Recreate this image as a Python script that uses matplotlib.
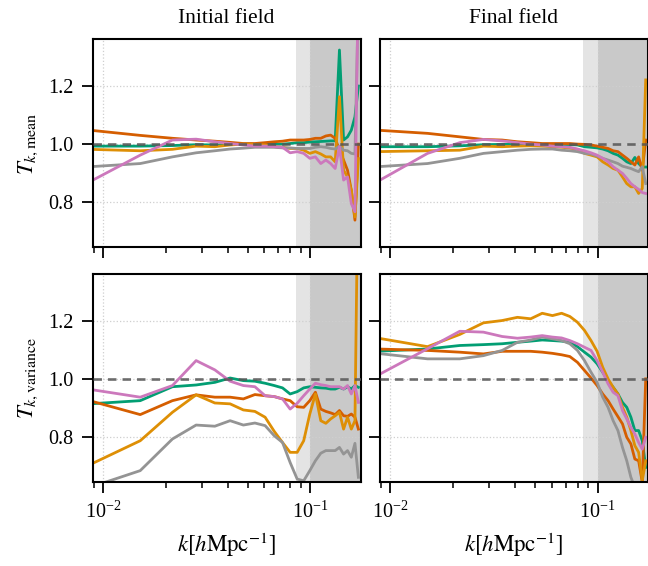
import matplotlib
matplotlib.use("Agg")
import matplotlib.pyplot as plt

# k bins [h/Mpc]
k = [0.0086, 0.0151, 0.0216, 0.0281, 0.0346, 0.0410, 0.0475, 0.0540, 0.0605,
     0.0670, 0.0734, 0.0799, 0.0864, 0.0929, 0.0994, 0.1058, 0.1123, 0.1188,
     0.1253, 0.1318, 0.1382, 0.1447, 0.1512, 0.1577, 0.1642, 0.1706]

# transfer function, mean, initial field
mean_init_green = [0.993, 0.993, 0.995, 0.998, 0.997, 0.999, 1.000, 0.999, 0.999,
                   0.999, 1.000, 1.002, 1.005, 1.005, 1.007, 1.008, 1.009, 1.010,
                   1.011, 1.011, 1.324, 1.014, 1.025, 1.048, 1.094, 1.200]
mean_init_verm = [1.048, 1.030, 1.020, 1.014, 1.010, 1.006, 1.002, 1.002, 1.005,
                  1.008, 1.010, 1.014, 1.014, 1.014, 1.016, 1.020, 1.020, 1.028,
                  1.031, 1.020, 0.979, 0.945, 0.910, 0.841, 0.738, 1.000]
mean_init_orange = [0.982, 0.977, 0.982, 0.993, 0.991, 0.997, 1.000, 0.999, 0.997,
                    0.991, 0.989, 0.985, 0.985, 0.979, 0.968, 0.974, 0.966, 0.956,
                    0.956, 0.939, 1.163, 0.910, 0.887, 0.841, 0.749, 0.950]
mean_init_pink = [0.870, 0.962, 1.014, 1.017, 1.008, 1.002, 0.997, 0.993, 0.993,
                  0.991, 0.989, 0.970, 0.974, 0.968, 0.951, 0.956, 0.933, 0.945,
                  0.933, 0.916, 0.991, 0.876, 0.887, 0.795, 0.767, 1.600]
mean_init_grey = [0.922, 0.933, 0.956, 0.970, 0.977, 0.983, 0.986, 0.989, 0.989,
                  0.989, 0.987, 0.987, 0.985, 0.985, 0.985, 0.989, 0.991, 0.989,
                  0.985, 0.983, 0.993, 0.979, 0.977, 0.968, 0.966, 1.500]

# transfer function, mean, final field
mean_final_green = [0.991, 0.991, 0.994, 0.998, 0.999, 0.999, 0.999, 0.999, 0.999,
                    0.998, 0.998, 0.997, 0.991, 0.989, 0.987, 0.983, 0.977, 0.968,
                    0.962, 0.951, 0.939, 0.933, 0.954, 0.933, 0.921, 0.921]
mean_final_verm = [1.048, 1.037, 1.025, 1.016, 1.014, 1.008, 1.005, 1.002, 1.002,
                   1.002, 1.002, 1.000, 0.999, 0.997, 0.993, 0.989, 0.985, 0.977,
                   0.974, 0.962, 0.951, 0.939, 0.928, 0.956, 0.910, 1.014]
mean_final_orange = [0.974, 0.977, 0.979, 0.993, 0.991, 0.993, 0.994, 0.993, 0.991,
                     0.989, 0.986, 0.982, 0.968, 0.962, 0.956, 0.939, 0.928, 0.916,
                     0.910, 0.887, 0.864, 0.853, 0.853, 0.830, 0.847, 1.221]
mean_final_pink = [0.870, 0.968, 1.005, 1.016, 1.011, 1.005, 1.000, 0.997, 0.993,
                   0.991, 0.989, 0.983, 0.977, 0.970, 0.962, 0.951, 0.939, 0.922,
                   0.910, 0.899, 0.882, 0.864, 0.853, 0.844, 0.833, 0.830]
mean_final_grey = [0.922, 0.933, 0.951, 0.968, 0.974, 0.979, 0.982, 0.983, 0.983,
                   0.979, 0.977, 0.974, 0.968, 0.966, 0.959, 0.951, 0.945, 0.939,
                   0.933, 0.924, 0.920, 0.916, 0.910, 0.905, 0.922, 0.864]

# transfer function, variance, initial field
var_init_green = [0.913, 0.924, 0.972, 0.978, 0.987, 1.002, 0.993, 0.991, 0.984,
                  0.976, 0.968, 0.947, 0.955, 0.968, 0.972, 0.970, 0.968, 0.967,
                  0.964, 0.964, 0.970, 0.964, 0.972, 0.964, 0.976, 0.970]
var_init_verm = [0.924, 0.876, 0.924, 0.944, 0.936, 0.936, 0.930, 0.945, 0.941,
                 0.938, 0.930, 0.924, 0.903, 0.901, 0.924, 0.953, 0.895, 0.887,
                 0.882, 0.876, 0.890, 0.872, 0.870, 0.878, 0.867, 0.826]
var_init_orange = [0.703, 0.786, 0.884, 0.944, 0.916, 0.913, 0.892, 0.887, 0.867,
                   0.818, 0.780, 0.746, 0.746, 0.786, 0.878, 0.947, 0.855, 0.846,
                   0.861, 0.872, 0.884, 0.826, 0.867, 0.826, 0.855, 1.800]
var_init_pink = [0.963, 0.936, 0.976, 1.062, 1.030, 0.991, 0.976, 0.972, 0.941,
                 0.938, 0.930, 0.895, 0.915, 0.941, 0.964, 0.984, 0.979, 0.976,
                 0.972, 0.972, 0.972, 0.964, 0.976, 0.947, 0.976, 0.918]
var_init_grey = [0.625, 0.683, 0.792, 0.840, 0.836, 0.855, 0.840, 0.847, 0.838,
                 0.803, 0.780, 0.711, 0.654, 0.648, 0.683, 0.717, 0.743, 0.752,
                 0.752, 0.752, 0.763, 0.740, 0.752, 0.729, 0.777, 0.660]

# transfer function, variance, final field
var_final_green = [1.094, 1.102, 1.114, 1.117, 1.120, 1.125, 1.129, 1.133, 1.131,
                   1.129, 1.125, 1.110, 1.091, 1.074, 1.051, 1.022, 0.993, 0.970,
                   0.947, 0.918, 0.901, 0.867, 0.821, 0.821, 0.786, 0.694]
var_final_verm = [1.102, 1.097, 1.091, 1.085, 1.094, 1.094, 1.094, 1.091, 1.087,
                  1.082, 1.076, 1.056, 1.028, 1.002, 0.976, 0.947, 0.924, 0.895,
                  0.869, 0.844, 0.798, 0.775, 0.723, 0.717, 0.643, 0.999]
var_final_orange = [1.140, 1.110, 1.152, 1.192, 1.200, 1.211, 1.206, 1.225, 1.217,
                    1.225, 1.214, 1.194, 1.166, 1.131, 1.094, 1.039, 0.999, 0.970,
                    0.947, 0.901, 0.867, 0.821, 0.769, 0.746, 0.648, 0.717]
var_final_pink = [1.010, 1.103, 1.163, 1.160, 1.145, 1.139, 1.143, 1.148, 1.143,
                  1.140, 1.131, 1.120, 1.108, 1.097, 1.062, 1.022, 0.982, 0.953,
                  0.941, 0.890, 0.861, 0.832, 0.809, 0.780, 0.757, 0.798]
var_final_grey = [1.087, 1.068, 1.068, 1.079, 1.097, 1.125, 1.133, 1.143, 1.137,
                  1.131, 1.120, 1.097, 1.062, 1.022, 0.987, 0.936, 0.901, 0.855,
                  0.821, 0.763, 0.717, 0.660, 0.625, 0.579, 0.533, 0.487]

colors = {"green": "#029E73", "verm": "#D55E00", "orange": "#DE8F05",
          "grey": "#949494", "pink": "#CC78BC"}

panels = [
    [{"green": mean_init_green, "verm": mean_init_verm, "orange": mean_init_orange,
      "grey": mean_init_grey, "pink": mean_init_pink},
     {"green": mean_final_green, "verm": mean_final_verm, "orange": mean_final_orange,
      "grey": mean_final_grey, "pink": mean_final_pink}],
    [{"green": var_init_green, "verm": var_init_verm, "orange": var_init_orange,
      "grey": var_init_grey, "pink": var_init_pink},
     {"green": var_final_green, "verm": var_final_verm, "orange": var_final_orange,
      "grey": var_final_grey, "pink": var_final_pink}],
]

plt.rcParams["font.family"] = "serif"
plt.rcParams["font.serif"] = ["Liberation Serif", "DejaVu Serif"]
plt.rcParams["mathtext.fontset"] = "stix"

fig, axes = plt.subplots(2, 2, figsize=(6.48, 5.66), dpi=100, sharex=True, sharey=True)
fig.subplots_adjust(left=0.143, right=1.0, bottom=0.149, top=0.9306,
                    wspace=0.072, hspace=0.128)

for i in range(2):
    for j in range(2):
        ax = axes[i, j]
        ax.axvspan(0.085, 0.1, color="#e4e4e4", lw=0, zorder=0)
        ax.axvspan(0.1, 0.3, color="#c9c9c9", lw=0, zorder=0)
        for name in ["green", "verm", "orange", "grey", "pink"]:
            ax.plot(k, panels[i][j][name], color=colors[name], lw=2.0, zorder=2)
        ax.axhline(1.0, color="#555555", ls=(0, (3.2, 2.3)), lw=1.9, alpha=0.85, zorder=3)
        ax.set_xscale("log")
        ax.set_xlim(0.0089, 0.175)
        ax.set_ylim(0.645, 1.361)
        ax.set_yticks([0.8, 1.0, 1.2])
        ax.grid(True, which="major", ls=":", color="#cfcfcf", lw=0.9, zorder=1)
        ax.tick_params(which="major", direction="out", length=8, width=1.3,
                       labelsize=14.5, pad=6)
        ax.tick_params(which="minor", direction="out", length=4.5, width=1.1)
        for sp in ax.spines.values():
            sp.set_linewidth(1.5)

axes[0, 0].set_title("Initial field", fontsize=15.5, pad=12)
axes[0, 1].set_title("Final field", fontsize=15.5, pad=12)
axes[0, 0].set_ylabel(r"$T_{k,\mathrm{mean}}$", fontsize=16.5, labelpad=6)
axes[1, 0].set_ylabel(r"$T_{k,\mathrm{variance}}$", fontsize=16.5, labelpad=6)
for ax in axes[1]:
    ax.set_xlabel(r"$k[h\mathrm{Mpc}^{-1}]$", fontsize=16.5, labelpad=6)

fig.savefig("out.png", dpi=100)
